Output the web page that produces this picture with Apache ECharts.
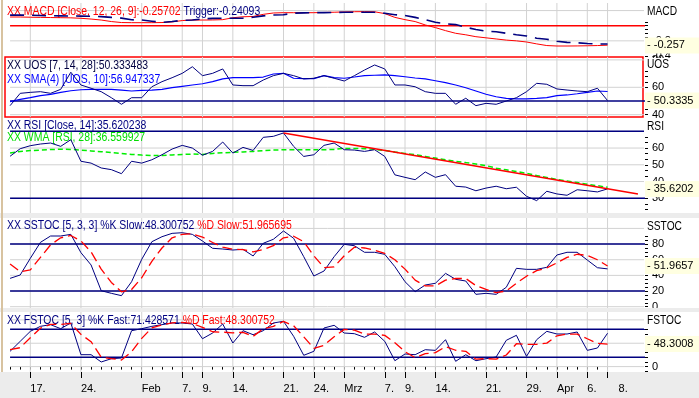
<!DOCTYPE html>
<html><head><meta charset="utf-8">
<script src="https://cdn.jsdelivr.net/npm/echarts@6/dist/echarts.min.js"></script>
<style>html,body{margin:0;padding:0;background:#fff}#c{width:699px;height:398px}</style>
</head><body><div id="c"></div>
<script>
// ---- data ----
const dates = ['2005-01-13','2005-01-14','2005-01-17','2005-01-18','2005-01-19','2005-01-20','2005-01-21','2005-01-24','2005-01-25','2005-01-26','2005-01-27','2005-01-28','2005-01-31',
'2005-02-01','2005-02-02','2005-02-03','2005-02-04','2005-02-07','2005-02-08','2005-02-09','2005-02-10','2005-02-11','2005-02-14','2005-02-15','2005-02-16','2005-02-17','2005-02-18','2005-02-21','2005-02-22','2005-02-23','2005-02-24','2005-02-25','2005-02-28',
'2005-03-01','2005-03-02','2005-03-03','2005-03-04','2005-03-07','2005-03-08','2005-03-09','2005-03-10','2005-03-11','2005-03-14','2005-03-15','2005-03-16','2005-03-17','2005-03-18','2005-03-21','2005-03-22','2005-03-23','2005-03-24','2005-03-29','2005-03-30','2005-03-31',
'2005-04-01','2005-04-04','2005-04-05','2005-04-06','2005-04-07','2005-04-08'];
const padDates = ['2005-04-11','2005-04-12','2005-04-13'];
const majorTickDates = ['2005-01-17','2005-01-24','2005-02-01','2005-02-07','2005-02-09','2005-02-14','2005-02-21','2005-02-24','2005-03-01','2005-03-07','2005-03-09','2005-03-14','2005-03-21','2005-03-29','2005-04-01','2005-04-06','2005-04-08'];
const majorTickLabels = ['17.','24.','Feb','7.','9.','14.','21.','24.','Mrz','7.','9.','14.','21.','29.','Apr','6.','8.'];

const macd = [0.115,0.115,0.112,0.11,0.108,0.106,0.104,0.098,0.088,0.075,0.055,0.042,0.04,0.04,0.04,0.042,0.05,0.068,0.075,0.075,0.076,0.08,0.105,0.118,0.122,0.15,0.168,0.172,0.172,0.172,0.172,0.175,0.178,0.182,0.185,0.186,0.184,0.16,0.11,0.08,0.055,0.01,-0.025,-0.065,-0.1,-0.12,-0.145,-0.16,-0.175,-0.19,-0.2,-0.215,-0.24,-0.262,-0.268,-0.268,-0.267,-0.265,-0.262,-0.25702];
const trigger = [0.14,0.14,0.138,0.135,0.132,0.13,0.128,0.127,0.125,0.12,0.11,0.1,0.078,0.075,0.06,0.045,0.055,0.072,0.075,0.09,0.097,0.098,0.098,0.1,0.112,0.13,0.141,0.145,0.165,0.17,0.172,0.173,0.175,0.177,0.178,0.178,0.177,0.165,0.145,0.135,0.11,0.08,0.045,0.025,0.015,-0.02,-0.05,-0.072,-0.08,-0.1,-0.12,-0.135,-0.165,-0.178,-0.205,-0.22,-0.225,-0.235,-0.242,-0.24093];
const uos = [46.6,55.6,56.3,56.8,55.6,58.5,71.0,61.7,59.3,56.8,52.4,47.6,52.4,52.4,60.4,64.1,67.0,70.2,75.0,68.5,70.2,73.4,61.7,61.2,61.2,65.3,68.5,70.2,68.5,66.1,66.6,68.5,66.6,64.6,68.5,72.6,76.3,73.4,61.7,61.7,60.4,56.8,55.6,55.6,47.6,52.0,46.6,48.3,47.6,50.0,52.4,56.8,62.9,62.2,58.8,58.0,57.3,56.8,59.3,50.333483];
const uosSma = [49.5,51.2,52.4,53.9,54.9,56.3,57.5,58.2,58.5,58.5,58.5,58.0,57.3,57.8,58.0,58.5,59.7,60.7,61.7,62.6,64.1,66.1,67.0,67.0,67.0,67.5,69.7,70.2,66.6,66.3,66.3,68.5,67.0,66.6,67.5,68.5,68.8,69.0,68.5,67.7,66.8,66.1,64.8,63.4,61.7,59.7,57.3,54.9,53.1,51.9,51.5,51.5,51.9,52.4,53.9,54.4,55.3,56.3,57.3,56.947337];
const rsi = [55.1,59.6,61.4,62.4,63.0,61.0,65.0,52.1,51.0,48.1,47.1,44.7,52.1,51.0,53.0,56.0,59.4,61.6,60.0,55.7,58.0,63.6,57.0,60.4,58.6,66.4,67.0,69.0,61.0,55.0,56.0,61.6,63.0,59.0,58.8,58.0,59.0,55.0,44.0,42.5,41.1,45.7,42.5,44.1,37.2,36.7,34.5,36.1,37.2,35.7,36.6,31.2,28.6,34.2,32.6,31.8,35.1,34.5,33.8,35.620238];
const rsiWma = [57.0,58.0,58.5,58.8,59.1,59.3,59.2,58.8,58.3,57.8,57.3,56.8,56.2,55.8,55.5,55.5,55.9,56.2,56.4,56.2,56.8,57.2,57.4,57.7,58.0,58.4,58.8,59.0,59.0,59.0,59.0,59.0,59.2,59.8,59.8,59.6,59.2,58.6,57.6,56.8,56.0,55.0,54.0,53.0,52.0,51.3,50.5,49.5,48.0,47.0,46.0,44.9,43.6,42.4,41.2,40.4,39.4,38.4,37.5,36.559927];
const rsiTrend = [[27, 69.0], [61.54, 32.57]];
const kSlow = [36.2,40.5,61.8,82.2,90.3,90.3,92.4,69.0,53.3,20.4,17.1,14.1,31.9,60.5,83.0,89.4,93.7,94.5,92.4,83.9,74.6,73.7,72.4,73.3,64.8,81.0,86.1,96.7,87.4,63.9,39.2,45.6,63.9,79.7,77.9,69.5,69.5,66.9,51.1,31.9,19.2,27.7,29.9,42.6,35.0,32.8,15.8,17.1,15.8,24.8,49.0,47.7,47.7,50.3,66.0,69.5,69.5,59.6,49.8,48.300752];
const dSlow = [54.5,44.7,47,63,79,88,91,84,70,48,31,19,22,37,58,75,88,92.5,93,89,82,76,73.5,73,70,73,78,88,90,83,65,50,51,65,76,75,72,68,60,48,34,26.5,26.5,34,36,36,27,22,18,20,30,39,46,49.5,56,63,67,65.5,60,51.965695];
const kFast = [32.7,54.1,75.5,86.2,89.8,81.2,93.4,25.5,25.5,9.9,16.9,18.4,76.9,81.2,86.2,89.8,93.4,93.4,91.2,59.7,71.9,91.2,50.5,76.9,68.3,76.9,93.4,97.0,64.9,24.2,32.7,82.6,88.4,71.9,70.5,62.7,74.1,54.1,12.6,27.0,25.5,36.2,34.8,57.6,11.3,25.5,12.6,16.9,20.6,56.3,67.0,22.0,57.6,75.5,69.8,69.8,74.1,34.8,39.8,71.428571];
const dFast = kSlow; // %D fast is the same curve as %K slow

const macdLabels = [-0.4, -0.2], macdGrid = [0.2, -0.2];
const uosLabels = [40, 60, 80];
const rsiLabels = [20, 30, 40, 50, 60, 70];
const sstocLabels = [0, 20, 40, 60, 80, 100];
const fstocLabels = [0, 50, 100];

// ---- build ----
const FF = '"Liberation Sans", Arial, sans-serif';
const categories = dates.concat(padDates);
const last = a => a[a.length - 1];
function range(a, b, s) { const r = []; for (let v = a; v <= b + 1e-9; v += s) r.push(+v.toFixed(4)); return r; }
const NAVY = '#000080', RED = '#ff0000';
const SX = 0.87, LFONT = '12px ' + FF;
const mctx = document.createElement('canvas').getContext('2d');
mctx.font = LFONT;
const tw = s => mctx.measureText(s).width;

const panels = [
  { name: 'MACD', top: 3, height: 53, min: -0.4, max: 0.3, labels: macdLabels, grid: macdGrid, ticks: range(-0.4, 0.3, 0.05), fmt: v => v.toFixed(1),
    refs: [{ v: 0, c: RED }], box: { v: last(macd), t: last(macd).toFixed(3) }, titleY: 12, boxTop: 0, boxH: 21 },
  { name: 'UOS', top: 57, height: 60, min: 38.32, max: 82.12, labels: uosLabels, grid: uosLabels, ticks: range(40, 80, 4), fmt: v => String(v),
    refs: [{ v: 50, c: NAVY }], box: { v: last(uos), t: last(uos).toFixed(4) }, titleY: 65, boxTop: 58, boxH: 12, border: true },
  { name: 'RSI', top: 118, height: 95, min: 21.22, max: 77.94, labels: rsiLabels, grid: rsiLabels, ticks: range(20, 77, 10 / 3), fmt: v => String(v),
    refs: [{ v: 70, c: NAVY }, { v: 30, c: NAVY }], box: { v: last(rsi), t: last(rsi).toFixed(4) }, titleY: 127, boxTop: 118, boxH: 16 },
  { name: 'SSTOC', top: 218, height: 90, min: -1.66, max: 113.3, labels: sstocLabels, grid: sstocLabels, ticks: range(0, 110, 5), fmt: v => String(v),
    refs: [{ v: 80, c: NAVY }, { v: 20, c: NAVY }], box: { v: last(dSlow), t: last(dSlow).toFixed(4) }, titleY: 227, boxTop: 218, boxH: 17 },
  { name: 'FSTOC', top: 312, height: 60, min: -11.56, max: 116.9, labels: fstocLabels, grid: fstocLabels, ticks: range(-10, 110, 10), fmt: v => String(v),
    refs: [{ v: 80, c: NAVY }, { v: 20, c: NAVY }], box: { v: last(dFast), t: last(dFast).toFixed(4) }, titleY: 321, boxTop: 312, boxH: 17 }
];

const grid = [], xAxis = [], yAxis = [], series = [], graphic = [];
const xLeft = -0.5, xRight = categories.length - 0.5; // category-band edges of the plot
panels.forEach((p, i) => {
  grid.push({ left: 5, right: 56, top: p.top, height: p.height, show: !!p.border, borderColor: RED, borderWidth: 1.5, backgroundColor: 'transparent' });
  const bottom = i === panels.length - 1;
  xAxis.push({
    type: 'category', gridIndex: i, data: categories, boundaryGap: true, position: 'bottom',
    axisLine: { show: false }, splitLine: { show: false },
    axisTick: { show: bottom, alignWithLabel: true, length: 3, interval: (idx) => idx < dates.length, lineStyle: { color: '#000' } },
    axisLabel: { show: bottom, interval: 0, margin: 11, align: 'left', color: '#000', fontSize: 11, fontFamily: FF,
      formatter: (val) => { const k = majorTickDates.indexOf(val); if (k < 0) return ''; return k === majorTickDates.length - 1 ? '{s|' + majorTickLabels[k] + '}' : majorTickLabels[k]; },
      rich: { s: { padding: [0, 0, 0, 11], fontSize: 11, fontFamily: FF, color: '#000' } } }
  });
  yAxis.push({
    type: 'value', gridIndex: i, position: 'right', offset: 2, min: p.min, max: p.max,
    axisLine: { show: false }, splitLine: { show: false },
    axisTick: { show: true, length: 3, customValues: p.ticks, lineStyle: { color: '#000' } },
    axisLabel: { customValues: p.labels, margin: 7, color: '#000', fontSize: 11, fontFamily: FF, formatter: p.fmt }
  });
  // light grid lines: one broken polyline through axis-space points
  const gd = [];
  majorTickDates.forEach(d => { const k = categories.indexOf(d); gd.push([k, p.min], [k, p.max], [k, '-']); });
  p.grid.forEach(v => { gd.push([xLeft, v], [xRight, v], [xRight, '-']); });
  series.push({ type: 'line', xAxisIndex: i, yAxisIndex: i, data: gd, symbol: 'none', z: 1, silent: true, connectNulls: false,
    lineStyle: { color: '#d2d2d2', width: 1 } });
  // reference lines
  const rd = [];
  p.refs.forEach(r => rd.push([xLeft, r.v], [xRight, r.v], [xRight, '-']));
  series.push({ type: 'line', xAxisIndex: i, yAxisIndex: i, data: rd, symbol: 'none', z: 2, silent: true, connectNulls: false,
    lineStyle: { color: p.refs[0].c, width: 1.5 } });
  // current-value box on the axis
  series.push({ type: 'line', xAxisIndex: i, yAxisIndex: i, data: [], z: 5, silent: true, clip: false,
    markLine: { silent: true, symbol: ['none', 'none'], animation: false,
      lineStyle: { color: 'rgba(0,0,0,0)', width: 1, type: 'solid' },
      label: { show: true, position: 'end', distance: 2, formatter: '- ' + p.box.t, color: '#000', fontSize: 11, fontFamily: FF,
        backgroundColor: '#FFFFE1', padding: [2, 40, 1, 2], lineHeight: 13 },
      data: [{ yAxis: p.box.v }] } });
  graphic.push({ type: 'rect', shape: { x: 644, y: p.boxTop, width: 55, height: p.boxH }, style: { fill: '#ffffff' }, z: 15, silent: true });
  graphic.push({ type: 'text', x: 647, y: p.titleY, scaleX: 0.85, style: { text: p.name, font: LFONT, fill: '#000', textVerticalAlign: 'middle', verticalAlign: 'middle' }, z: 16, silent: true });
});
xAxis.push({ type: 'category', gridIndex: 4, data: categories, boundaryGap: true, position: 'bottom',
  axisLine: { show: false }, splitLine: { show: false }, axisLabel: { show: false },
  axisTick: { show: true, alignWithLabel: true, length: 6, interval: (idx, val) => majorTickDates.indexOf(val) >= 0, lineStyle: { color: '#000' } } });

function line(xi, yi, data, color, width, type, z) {
  return { type: 'line', xAxisIndex: xi, yAxisIndex: yi, data, symbol: 'none', z: z || 3, silent: true,
    lineStyle: { color, width, type: type || 'solid' } };
}
series.push(line(0, 0, macd, RED, 1));
series.push(line(0, 0, trigger, NAVY, 1.6, [14, 8]));
series.push(line(1, 1, uosSma, '#0000ff', 1.2));
series.push(line(1, 1, uos, NAVY, 1));
series.push(line(2, 2, rsiWma, '#00ee00', 1.5, [5, 3]));
series.push(line(2, 2, rsi, NAVY, 1));
series.push(line(2, 2, rsiTrend, RED, 1.5, 'solid', 4));
series.push(line(3, 3, kSlow, NAVY, 1));
series.push(line(3, 3, dSlow, RED, 1.3, [10, 5]));
series.push(line(4, 4, kFast, NAVY, 1));
series.push(line(4, 4, dFast, RED, 1.3, [10, 5]));

graphic.push({ type: 'rect', shape: { x: 0, y: 372, width: 699, height: 26 }, style: { fill: '#ECECEC' }, z: -10, silent: true });
graphic.push({ type: 'rect', shape: { x: 0, y: 213, width: 699, height: 5 }, style: { fill: '#ECECEC' }, z: 20, silent: true });
graphic.push({ type: 'rect', shape: { x: 0, y: 308, width: 699, height: 4 }, style: { fill: '#ECECEC' }, z: 20, silent: true });
graphic.push({ type: 'rect', shape: { x: 1, y: 0, width: 2, height: 372 }, style: { fill: '#D8C3A0' }, z: 21, silent: true });

function legend(y, parts) {
  let x = 7;
  parts.forEach((pt) => {
    graphic.push({ type: 'text', x, y, scaleX: SX, z: 2, silent: true,
      style: { text: pt[0], font: LFONT, fill: pt[1], textVerticalAlign: 'middle', verticalAlign: 'middle' } });
    x += (tw(pt[0]) + tw(' ')) * SX;
  });
}
legend(12, [['XX MACD [Close, 12, 26, 9]:' + last(macd).toFixed(5), RED], ['Trigger:' + last(trigger).toFixed(5), NAVY]]);
legend(66, [['XX UOS [7, 14, 28]:' + last(uos).toFixed(6), '#000040']]);
legend(80, [['XX SMA(4) [UOS, 10]:' + last(uosSma).toFixed(6), '#0000ff']]);
legend(125.5, [['XX RSI [Close, 14]:' + last(rsi).toFixed(6), NAVY]]);
legend(137.5, [['XX WMA [RSI, 28]:' + last(rsiWma).toFixed(6), '#00dd00']]);
legend(225.5, [['XX SSTOC [5, 3, 3] %K Slow:' + last(kSlow).toFixed(6), NAVY], ['%D Slow:' + last(dSlow).toFixed(6), RED]]);
legend(320.5, [['XX FSTOC [5, 3] %K Fast:' + last(kFast).toFixed(6), NAVY], ['%D Fast:' + last(dFast).toFixed(6), RED]]);

const chart = echarts.init(document.getElementById('c'), null, { renderer: 'canvas' });
chart.setOption({ animation: false, backgroundColor: '#ffffff', grid, xAxis, yAxis, series, graphic });
</script></body></html>
